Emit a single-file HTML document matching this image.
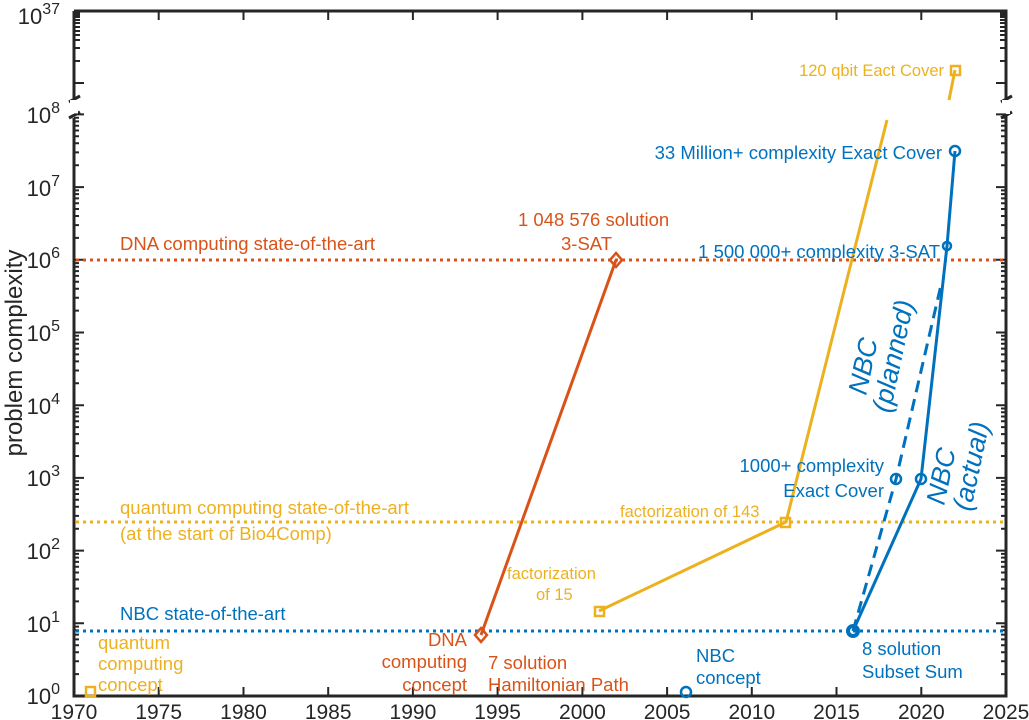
<!DOCTYPE html>
<html><head><style>body{margin:0;background:#fff}svg{display:block;font-family:"Liberation Sans",sans-serif}</style></head><body>
<svg width="1029" height="720" viewBox="0 0 1029 720" xmlns:xlink="http://www.w3.org/1999/xlink">
<defs>
<g id="dec" stroke="#262626" stroke-width="2">
<path d="M74,0h10M74,-21.9h5M74,-34.7h5M74,-43.8h5M74,-50.8h5M74,-56.6h5M74,-61.4h5M74,-65.7h5M74,-69.4h5"/>
<path d="M1006,0h-10M1006,-21.9h-5M1006,-34.7h-5M1006,-43.8h-5M1006,-50.8h-5M1006,-56.6h-5M1006,-61.4h-5M1006,-65.7h-5M1006,-69.4h-5"/>
</g>
</defs>
<rect width="1029" height="720" fill="#fff"/>
<g stroke="#262626" stroke-width="3" fill="none">
<path d="M74,11 H1006 V696 H74 V118"/>
<path d="M74,98 V11"/>
</g>
<g stroke="#262626" stroke-width="3">
<line x1="69" y1="102" x2="80" y2="96"/><line x1="69" y1="118" x2="80" y2="112"/>
<line x1="1001" y1="102" x2="1012" y2="96"/><line x1="1001" y1="118" x2="1012" y2="112"/>
</g>
<rect x="70" y="100" width="8" height="14" fill="#fff"/>
<rect x="1002" y="100" width="8" height="14" fill="#fff"/>
<use xlink:href="#dec" href="#dec" y="696"/>
<use xlink:href="#dec" href="#dec" y="623.3"/>
<use xlink:href="#dec" href="#dec" y="550.6"/>
<use xlink:href="#dec" href="#dec" y="477.9"/>
<use xlink:href="#dec" href="#dec" y="405.2"/>
<use xlink:href="#dec" href="#dec" y="332.5"/>
<use xlink:href="#dec" href="#dec" y="259.8"/>
<use xlink:href="#dec" href="#dec" y="187.1"/>
<g stroke="#262626" stroke-width="2">
<path d="M74,114.4h10M1006,114.4h-10"/>
<path d="M74,83h10M74,61h6M74,48h6M74,40h6M74,35h6M74,31h6M74,27h6M74,23h6M74,20h6M74,17h6M74,15h6M74,13h6"/>
<path d="M1006,83h-10M1006,61h-6M1006,48h-6M1006,40h-6M1006,35h-6M1006,31h-6M1006,27h-6M1006,23h-6M1006,20h-6M1006,17h-6M1006,15h-6M1006,13h-6"/>
<path d="M158.7,696v-9M243.5,696v-9M328.2,696v-9M412.9,696v-9M497.6,696v-9M582.4,696v-9M667.1,696v-9M751.8,696v-9M836.5,696v-9M921.3,696v-9"/>
<path d="M158.7,11v9M243.5,11v9M328.2,11v9M412.9,11v9M497.6,11v9M582.4,11v9M667.1,11v9M751.8,11v9M836.5,11v9M921.3,11v9"/>
</g>
<g font-size="21" fill="#262626" text-anchor="middle">
<text x="74" y="719">1970</text><text x="158.7" y="719">1975</text><text x="243.5" y="719">1980</text><text x="328.2" y="719">1985</text><text x="412.9" y="719">1990</text><text x="497.6" y="719">1995</text><text x="582.4" y="719">2000</text><text x="667.1" y="719">2005</text><text x="751.8" y="719">2010</text><text x="836.5" y="719">2015</text><text x="921.3" y="719">2020</text><text x="1006" y="719">2025</text>
</g>
<g font-size="22" fill="#262626" text-anchor="end">
<text x="60" y="704">10<tspan font-size="16" dy="-10">0</tspan></text>
<text x="60" y="632">10<tspan font-size="16" dy="-10">1</tspan></text>
<text x="60" y="559">10<tspan font-size="16" dy="-10">2</tspan></text>
<text x="60" y="486">10<tspan font-size="16" dy="-10">3</tspan></text>
<text x="60" y="414">10<tspan font-size="16" dy="-10">4</tspan></text>
<text x="60" y="341">10<tspan font-size="16" dy="-10">5</tspan></text>
<text x="60" y="268">10<tspan font-size="16" dy="-10">6</tspan></text>
<text x="60" y="196">10<tspan font-size="16" dy="-10">7</tspan></text>
<text x="60" y="123">10<tspan font-size="16" dy="-10">8</tspan></text>
<text x="60" y="24">10<tspan font-size="16" dy="-10">37</tspan></text>
</g>
<text transform="translate(22,353) rotate(-90)" font-size="24" fill="#262626" text-anchor="middle">problem complexity</text>
<g stroke-width="3" stroke-dasharray="3,4" fill="none">
<line x1="76" y1="260" x2="1004" y2="260" stroke="#D95319"/>
<line x1="76" y1="522" x2="1004" y2="522" stroke="#EDB120"/>
<line x1="76" y1="631" x2="1004" y2="631" stroke="#0072BD"/>
</g>
<g fill="none" stroke-width="3">
<polyline points="481,635 616,260" stroke="#D95319"/>
<polyline points="599,611 786,522 887,120" stroke="#EDB120"/>
<polyline points="949,100 955,70" stroke="#EDB120"/>
<polyline points="853,631 896,479 941,285" stroke="#0072BD" stroke-dasharray="12,7"/>
<polyline points="853,631 921,479 947,246 955,151" stroke="#0072BD"/>
</g>
<g stroke-width="2.5" fill="none">
<path d="M481,628 l6,7 l-6,7 l-6,-7z" stroke="#D95319"/>
<path d="M616,253 l6,7 l-6,7 l-6,-7z" stroke="#D95319"/>
<rect x="86" y="687" width="9" height="9" stroke="#EDB120"/>
<rect x="595" y="607" width="9" height="9" stroke="#EDB120"/>
<rect x="781" y="518" width="9" height="9" stroke="#EDB120"/>
<rect x="951" y="66" width="9" height="9" stroke="#EDB120"/>
<circle cx="686" cy="692" r="5" stroke="#0072BD"/>
<circle cx="853" cy="631" r="5" stroke="#0072BD" stroke-width="4"/>
<circle cx="896" cy="479" r="5" stroke="#0072BD"/>
<circle cx="921" cy="479" r="5" stroke="#0072BD"/>
<circle cx="947" cy="246" r="4" stroke="#0072BD"/>
<circle cx="955" cy="151" r="5" stroke="#0072BD"/>
</g>
<g font-size="18.5">
<text x="120" y="250" fill="#D95319">DNA computing state-of-the-art</text>
<text x="518" y="226" fill="#D95319">1 048 576 solution</text>
<text x="561" y="250" fill="#D95319">3-SAT</text>
<text x="467" y="646" fill="#D95319" text-anchor="end">DNA</text>
<text x="467" y="668" fill="#D95319" text-anchor="end">computing</text>
<text x="467" y="691" fill="#D95319" text-anchor="end">concept</text>
<text x="488" y="669" fill="#D95319">7 solution</text>
<text x="488" y="691" fill="#D95319">Hamiltonian Path</text>
<text x="120" y="514" fill="#EDB120">quantum computing state-of-the-art</text>
<text x="120" y="540" fill="#EDB120">(at the start of Bio4Comp)</text>
<text x="98" y="649" fill="#EDB120">quantum</text>
<text x="98" y="670" fill="#EDB120">computing</text>
<text x="98" y="691" fill="#EDB120">concept</text>
<text x="120" y="620" fill="#0072BD">NBC state-of-the-art</text>
<text x="696" y="662" fill="#0072BD">NBC</text>
<text x="696" y="684" fill="#0072BD">concept</text>
<text x="862" y="655" fill="#0072BD">8 solution</text>
<text x="862" y="678" fill="#0072BD">Subset Sum</text>
<text x="884" y="472" fill="#0072BD" text-anchor="end">1000+ complexity</text>
<text x="884" y="497" fill="#0072BD" text-anchor="end">Exact Cover</text>
<text x="940" y="258" fill="#0072BD" text-anchor="end">1 500 000+ complexity 3-SAT</text>
<text x="942" y="159" fill="#0072BD" text-anchor="end">33 Million+ complexity Exact Cover</text>
</g>
<g font-size="16.5" fill="#EDB120">
<text x="944" y="76" text-anchor="end">120 qbit Eact Cover</text>
<text x="620" y="517">factorization of 143</text>
<text x="507" y="579">factorization</text>
<text x="536" y="600">of 15</text>
</g>
<g font-size="27" font-style="italic" fill="#0072BD" text-anchor="middle">
<text transform="translate(872,368) rotate(-78)">NBC</text>
<text transform="translate(902,358) rotate(-78)">(planned)</text>
<text transform="translate(950,478) rotate(-78)">NBC</text>
<text transform="translate(980,468) rotate(-78)">(actual)</text>
</g>
</svg>
</body></html>
